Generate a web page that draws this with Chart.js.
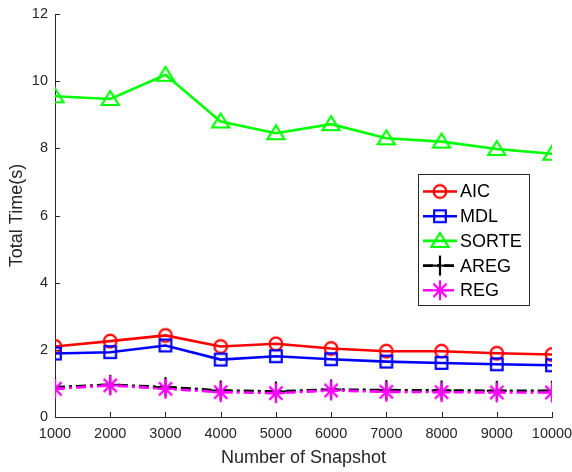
<!DOCTYPE html>
<html><head><meta charset="utf-8">
<script src="https://cdn.jsdelivr.net/npm/chart.js@4/dist/chart.umd.min.js"></script>
<style>html,body{margin:0;padding:0;background:#fff}</style>
</head><body>
<canvas id="c" width="572" height="472"></canvas>
<script>
const snapshots = [1000,2000,3000,4000,5000,6000,7000,8000,9000,10000];
const aic   = [2.10,2.26,2.43,2.10,2.18,2.04,1.96,1.96,1.90,1.86];
const mdl   = [1.89,1.93,2.13,1.71,1.81,1.72,1.65,1.61,1.57,1.54];
const sorte = [9.55,9.47,10.19,8.80,8.45,8.72,8.30,8.20,7.98,7.84];
const areg  = [0.89,0.96,0.89,0.79,0.76,0.82,0.80,0.79,0.78,0.78];
const reg   = [0.84,0.94,0.84,0.74,0.71,0.79,0.75,0.74,0.73,0.73];
const seriesNames = ['AIC','MDL','SORTE','AREG','REG'];
const xTicks = [1000,2000,3000,4000,5000,6000,7000,8000,9000,10000];
const yTicks = [0,2,4,6,8,10,12];
const xTitle = 'Number of Snapshot';
const yTitle = 'Total Time(s)';

const FONT = '"Liberation Sans", Arial, Helvetica, sans-serif';
const AXC = '#262626';

function marker(kind, color) {
  const s = 26, c = document.createElement('canvas');
  c.width = s; c.height = s;
  const g = c.getContext('2d');
  g.strokeStyle = color; g.lineWidth = 2.2; g.lineCap = 'butt';
  const m = s/2;
  g.beginPath();
  if (kind === 'circle') { g.arc(m, m, 6.3, 0, Math.PI*2); }
  else if (kind === 'square') { g.rect(m-5.8, m-5.8, 11.6, 11.6); }
  else if (kind === 'triangle') { g.moveTo(m, m-8); g.lineTo(m+8.5, m+6); g.lineTo(m-8.5, m+6); g.closePath(); }
  else if (kind === 'plus') { g.moveTo(m, m-10); g.lineTo(m, m+10); g.moveTo(m-10, m); g.lineTo(m+10, m); }
  else if (kind === 'star') {
    g.moveTo(m, m-10); g.lineTo(m, m+10);
    g.moveTo(m-9, m); g.lineTo(m+9, m);
    const d = 6.6;
    g.moveTo(m-d, m-d); g.lineTo(m+d, m+d);
    g.moveTo(m-d, m+d); g.lineTo(m+d, m-d);
  }
  g.stroke();
  return c;
}

const styles = [
  {color:'#FF0000', kind:'circle', dash:[]},
  {color:'#0000FF', kind:'square', dash:[]},
  {color:'#00FF00', kind:'triangle', dash:[]},
  {color:'#000000', kind:'plus', dash:[10,4,3,4]},
  {color:'#FF00FF', kind:'star', dash:[10,4,3,4]}
];
const values = [aic, mdl, sorte, areg, reg];

const datasets = values.map((vals, i) => {
  const st = styles[i];
  const img = marker(st.kind, st.color);
  st.img = img;
  return {
    label: seriesNames[i],
    data: snapshots.map((x, j) => ({x, y: vals[j]})),
    borderColor: st.color,
    backgroundColor: st.color,
    borderWidth: 2.6,
    borderDash: st.dash,
    pointStyle: img,
    pointRadius: 10,
    pointHoverRadius: 10,
    tension: 0,
    fill: false,
    order: 5 - i
  };
});

const inwardTicks = {
  id: 'inwardTicks',
  beforeDatasetsDraw(chart) {
    const {ctx, chartArea: a, scales: {x, y}} = chart;
    ctx.save();
    ctx.strokeStyle = AXC; ctx.lineWidth = 1;
    ctx.beginPath();
    xTicks.forEach(v => { const p = Math.round(x.getPixelForValue(v)) + 0.5; ctx.moveTo(p, a.bottom); ctx.lineTo(p, a.bottom - 5); });
    yTicks.forEach(v => { const p = Math.round(y.getPixelForValue(v)) + 0.5; ctx.moveTo(a.left, p); ctx.lineTo(a.left + 5, p); });
    ctx.stroke();
    ctx.restore();
  }
};

const legendBox = {
  id: 'legendBox',
  afterDatasetsDraw(chart) {
    const ctx = chart.ctx;
    const L = 418.5, T = 174.5, W = 111, H = 131;
    ctx.save();
    ctx.fillStyle = '#fff'; ctx.fillRect(L, T, W, H);
    ctx.strokeStyle = AXC; ctx.lineWidth = 1; ctx.strokeRect(L, T, W, H);
    ctx.font = '18px ' + FONT;
    ctx.textBaseline = 'middle'; ctx.textAlign = 'left';
    seriesNames.forEach((name, i) => {
      const st = styles[i];
      const yy = 191.5 + i * 24.7;
      ctx.strokeStyle = st.color; ctx.lineWidth = 2.6;
      ctx.setLineDash(st.dash);
      ctx.beginPath(); ctx.moveTo(423, yy); ctx.lineTo(457, yy); ctx.stroke();
      ctx.setLineDash([]);
      ctx.drawImage(st.img, 440 - st.img.width/2, yy - st.img.height/2);
      ctx.fillStyle = '#000';
      ctx.fillText(name, 460, yy + 1);
    });
    ctx.restore();
  }
};

new Chart(document.getElementById('c'), {
  type: 'line',
  data: { datasets },
  options: {
    responsive: false,
    animation: false,
    devicePixelRatio: 1,
    layout: { padding: { left: 0, right: 20, top: 14, bottom: 0 } },
    plugins: { legend: { display: false }, tooltip: { enabled: false } },
    scales: {
      x: {
        type: 'linear', min: 1000, max: 10000,
        afterFit(s) { s.height = 55; s.paddingLeft = 0; s.paddingRight = 0; },
        afterBuildTicks(s) { s.ticks = xTicks.map(v => ({value: v})); },
        ticks: { color: AXC, font: { family: FONT, size: 14.5 }, padding: 8, maxRotation: 0, autoSkip: false, callback: v => String(v) },
        grid: { display: true, drawOnChartArea: false, drawTicks: false },
        border: { display: true, color: AXC, width: 1 },
        title: { display: true, text: xTitle, color: AXC, font: { family: FONT, size: 18 }, padding: { top: 0, bottom: 3 } }
      },
      y: {
        type: 'linear', min: 0, max: 12,
        afterFit(s) { s.width = 55; s.paddingTop = 0; s.paddingBottom = 0; },
        afterBuildTicks(s) { s.ticks = yTicks.map(v => ({value: v})); },
        ticks: { color: AXC, font: { family: FONT, size: 14.5 }, padding: 7, callback: v => String(v) },
        grid: { display: true, drawOnChartArea: false, drawTicks: false },
        border: { display: true, color: AXC, width: 1 },
        title: { display: true, text: yTitle, color: AXC, font: { family: FONT, size: 18 }, padding: { top: 6, bottom: 0 } }
      }
    }
  },
  plugins: [inwardTicks, legendBox]
});
</script>
</body></html>
